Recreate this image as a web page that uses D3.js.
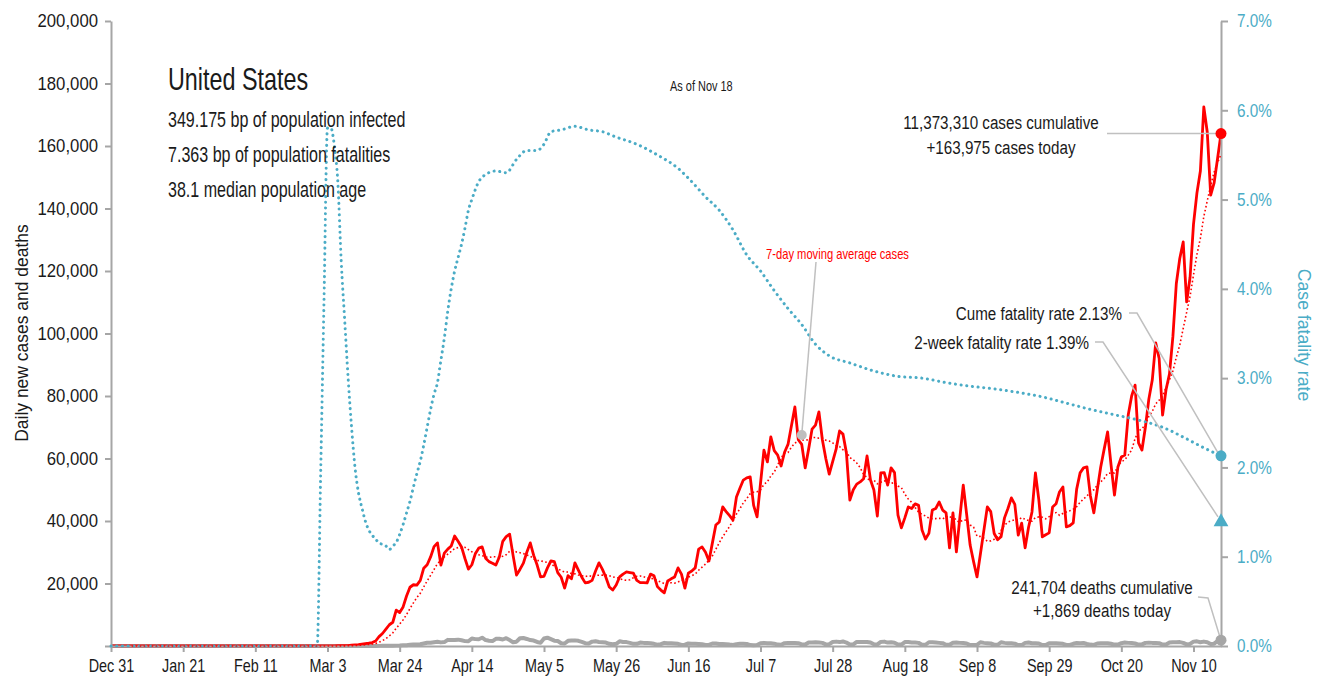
<!DOCTYPE html>
<html>
<head>
<meta charset="utf-8">
<script src="https://cdn.jsdelivr.net/npm/d3@7"></script>
<style>
  body { margin: 0; background: #fff; }
  svg text { font-family: "Liberation Sans", Arial, sans-serif; fill: #1a1a1a; }
</style>
</head>
<body>
<script>
// data
const startDate = "2019-12-31";
const endDate = "2020-11-18";

const tickDates = ["2019-12-31", "2020-01-21", "2020-02-11", "2020-03-03", "2020-03-24", "2020-04-14",
  "2020-05-05", "2020-05-26", "2020-06-16", "2020-07-07", "2020-07-28", "2020-08-18",
  "2020-09-08", "2020-09-29", "2020-10-20", "2020-11-10"];
const tickLabels = ["Dec 31", "Jan 21", "Feb 11", "Mar 3", "Mar 24", "Apr 14", "May 5", "May 26",
  "Jun 16", "Jul 7", "Jul 28", "Aug 18", "Sep 8", "Sep 29", "Oct 20", "Nov 10"];

// daily new cases, one value per day from Dec 31
const cases = [
  0, 0, 0, 0, 0, 0, 0, 0, 0, 0, 0, 0, 0, 0, 0, 0, 0, 0, 0, 0, 0,
  1, 0, 0, 1, 0, 3, 0, 0, 0, 0, 1,
  1, 0, 3, 0, 0, 1, 0, 0, 0, 0, 1, 0, 1, 0, 0, 0, 0, 0, 0, 0, 2, 0, 0, 22, 0, 6, 1, 1, 8,
  3, 20, 14, 22, 34, 74, 105, 95, 121,
  300, 380, 450, 600, 750, 900, 1100, 1600, 3000, 4000,
  5400, 6800, 7600, 11500, 10700, 12500, 16000, 18800, 19600, 19500,
  21000, 24900, 26000, 28500, 31800, 33000, 25900, 29700, 31000, 32000,
  35200, 33500, 31700, 28000, 24600, 26000, 29500, 31300, 31700, 28100,
  27000, 26500, 25900, 28500, 33500, 35000, 35800, 29000, 22700, 24500,
  26500, 30000, 33000, 29000, 25900, 22100, 22300, 25000, 27200, 27000,
  23500, 22000, 18500, 22500, 21500, 26600, 24300, 22000, 20200, 20400,
  21000, 24000, 26600, 24500, 22000, 18900, 17900, 19500, 22100, 23000,
  23700, 23500, 23300, 21000, 20300, 20300, 20200, 23000, 22500, 19000,
  17900, 17000, 20800, 21500, 22100, 25000, 23000, 18500, 23300, 24000,
  25000, 31000, 31700, 30000, 27200, 33000, 38700, 39700, 44500, 43000,
  41700, 40300, 47700, 50500, 53100, 53800, 54100, 45000, 41300, 52000,
  62700, 58900, 66900, 62500, 61100, 57600, 62000, 64500, 70500, 76500,
  66000, 64500, 57000, 63000, 69400, 70700, 74900, 66000, 60000, 55000,
  59000, 63000, 68800, 67800, 61800, 46700, 50000, 51800, 52500, 53500,
  60800, 53100, 49900, 41600, 55400, 55500, 51500, 57000, 55500, 41900,
  37800, 41000, 44500, 44000, 45500, 45000, 37100, 34200, 36100, 43500,
  44000, 46100, 43500, 42600, 31400, 42600, 30100, 41000, 51500, 42000,
  32300, 27000, 22100, 29500, 37000, 44500, 43000, 36000, 34000, 35000,
  41000, 44000, 47400, 45300, 35500, 39300, 31400, 38000, 42900, 55400,
  46700, 34900, 35600, 36200, 44500, 45500, 49300, 50900, 38100, 38500,
  39400, 50200, 55400, 57000, 57300, 48000, 42600, 50000, 57300, 63000,
  68500, 58000, 48300, 57300, 60500, 61100, 73900, 80000, 83500, 65000,
  62700, 70000, 79000, 85100, 97000, 92000, 73900, 82000, 87000, 99000,
  116000, 124000, 129300, 110100, 118000, 135000, 145000, 152000, 172500, 164500,
  144300, 148200, 156000, 163975
];

// daily deaths, one value per day from Dec 31
const deaths = [
  0, 0, 0, 0, 0, 0, 0, 0, 0, 0, 0, 0, 0, 0, 0, 0, 0, 0, 0, 0, 0,
  0, 0, 0, 0, 0, 0, 0, 0, 0, 0, 0, 0, 0, 0, 0, 0, 0, 0, 0, 0, 0,
  0, 0, 0, 0, 0, 0, 0, 0, 0, 0, 0, 0, 0, 0, 0, 0, 0, 0, 0,
  1, 5, 1, 2, 3, 2, 3,
  2, 4, 4, 8, 7, 11, 12,
  10, 20, 25, 40, 50, 60, 70,
  100, 120, 140, 220, 250, 400, 520,
  520, 560, 810, 1050, 1040, 1200, 1330,
  1160, 1250, 1960, 1920, 1900, 2035, 1830,
  1560, 1510, 2400, 2200, 2170, 2650, 1900,
  1700, 1580, 2300, 2340, 2080, 2500, 1900,
  1200, 1380, 2470, 2560, 2250, 1900, 1750,
  1300, 1050, 2380, 2650, 2200, 1700, 1600,
  900, 800, 1650, 1770, 1800, 1650, 1300,
  900, 800, 1400, 1500, 1300, 1200, 1100,
  700, 550, 700, 1500, 1300, 1250, 1000,
  700, 700, 1100, 1000, 1000, 900, 700,
  400, 600, 1000, 900, 900, 800, 700,
  350, 400, 800, 750, 700, 650, 550,
  300, 350, 800, 800, 650, 650, 600,
  450, 350, 600, 700, 700, 650, 300,
  250, 300, 900, 1000, 900, 850, 750,
  450, 400, 900, 1000, 1000, 950, 900,
  500, 450, 1100, 1150, 1200, 1100, 1000,
  500, 600, 1300, 1400, 1250, 1450, 1100,
  500, 500, 1300, 1300, 1300, 1300, 1100,
  550, 500, 1300, 1400, 1100, 1200, 1050,
  500, 450, 1250, 1300, 1150, 1100, 1000,
  400, 400, 1200, 1200, 1100, 1000, 900,
  400, 400, 1050, 1100, 1000, 950, 800,
  300, 300, 400, 1200, 1000, 900, 800,
  400, 400, 1200, 1000, 900, 900, 750,
  300, 300, 1000, 1100, 900, 900, 800,
  300, 300, 900, 900, 900, 800, 700,
  350, 350, 700, 950, 900, 950, 650,
  450, 350, 800, 850, 900, 900, 700,
  450, 450, 900, 1100, 1000, 950, 800,
  450, 500, 1000, 1050, 1000, 1000, 900,
  450, 500, 1100, 1200, 1200, 1250, 1000,
  500, 650, 1400, 1500, 1200, 1400, 1200,
  650, 750, 1600, 1869
];

// case fatality rate (%), read at these dates
const cfrDates = ["2019-12-31", "2020-02-29", "2020-03-01", "2020-03-02", "2020-03-03", "2020-03-04",
  "2020-03-05", "2020-03-06", "2020-03-07", "2020-03-08", "2020-03-09", "2020-03-10", "2020-03-11",
  "2020-03-12", "2020-03-13", "2020-03-14", "2020-03-15", "2020-03-16", "2020-03-17", "2020-03-18",
  "2020-03-19", "2020-03-20", "2020-03-21", "2020-03-22", "2020-03-23", "2020-03-24", "2020-03-25",
  "2020-03-26", "2020-03-27", "2020-03-28", "2020-03-29", "2020-03-30", "2020-03-31", "2020-04-01",
  "2020-04-02", "2020-04-03", "2020-04-04", "2020-04-05", "2020-04-06", "2020-04-07", "2020-04-08",
  "2020-04-09", "2020-04-10", "2020-04-11", "2020-04-12", "2020-04-13", "2020-04-14", "2020-04-16",
  "2020-04-18", "2020-04-21", "2020-04-24", "2020-04-27", "2020-04-30", "2020-05-03", "2020-05-05",
  "2020-05-07", "2020-05-10", "2020-05-14", "2020-05-18", "2020-05-22", "2020-05-26", "2020-06-01",
  "2020-06-07", "2020-06-13", "2020-06-17", "2020-06-21", "2020-06-25", "2020-06-29", "2020-07-03",
  "2020-07-07", "2020-07-11", "2020-07-15", "2020-07-19", "2020-07-23", "2020-07-27", "2020-08-02",
  "2020-08-09", "2020-08-16", "2020-08-23", "2020-08-30", "2020-09-06", "2020-09-13", "2020-09-20",
  "2020-09-27", "2020-10-04", "2020-10-11", "2020-10-18", "2020-10-25", "2020-11-01", "2020-11-08",
  "2020-11-13", "2020-11-18"];
const cfrPct = [0, 0, 1.9, 3.9, 5.8, 5.8,
  5.6, 5.2, 4.3, 3.65, 3.0, 2.45, 2.0,
  1.72, 1.55, 1.4, 1.3, 1.24, 1.2, 1.15,
  1.14, 1.12, 1.08, 1.12, 1.16, 1.25, 1.36,
  1.49, 1.62, 1.78, 1.93, 2.07, 2.25, 2.45,
  2.65, 2.82, 2.95, 3.2, 3.45, 3.75, 4.0,
  4.2, 4.35, 4.5, 4.68, 4.88, 5.0, 5.2,
  5.28, 5.32, 5.3, 5.45, 5.55, 5.55, 5.62,
  5.76, 5.78, 5.82, 5.78, 5.76, 5.7, 5.62,
  5.5, 5.35, 5.2, 5.03, 4.88, 4.66, 4.38,
  4.2, 3.98, 3.78, 3.6, 3.38, 3.25, 3.17,
  3.08, 3.02, 3.0, 2.95, 2.91, 2.88, 2.84,
  2.79, 2.72, 2.65, 2.59, 2.53, 2.45, 2.32,
  2.22, 2.13];

const country = "United States";
const statLines = ["349.175 bp of population infected", "7.363 bp of population fatalities", "38.1 median population age"];
const asOf = "As of Nov 18";
const cumCases = 11373310, cumDeaths = 241704;
const cumeRate = 2.13, twoWeekRate = 1.39;
const maMarkDate = "2020-07-19";

// setup
const width = 1325, height = 684,
      blue = "#4bacc6", red = "#ff0000", grey = "#a6a6a6", lead = "#c0c0c0";
const parse = d3.utcParse("%Y-%m-%d"),
      t0 = parse(startDate),
      dates = cases.map((d, i) => d3.utcDay.offset(t0, i)),
      ma = cases.map((d, i) => i >= 6 ? d3.mean(cases.slice(i - 6, i + 1)) : null),
      fmt = d3.format(",");

const svg = d3.select("body").append("svg").attr("width", width).attr("height", height);

// squeeze text horizontally to imitate the condensed face
function narrow(sel, k) {
  sel.each(function() {
    const t = d3.select(this),
          tx = +t.attr("x") || 0, ty = +t.attr("y") || 0,
          prev = t.attr("transform") || "";
    t.attr("x", 0).attr("y", 0).attr("transform", `${prev} translate(${tx},${ty}) scale(${k},1)`);
  });
  return sel;
}

const x = d3.scaleUtc().domain([t0, parse(endDate)]).range([111, 1221]),
      y = d3.scaleLinear().domain([0, 200000]).range([646, 21]),
      yR = d3.scaleLinear().domain([0, 7]).range([646, 21]);

// daily series, under the axes
svg.append("path")
  .datum(deaths)
  .attr("fill", "none").attr("stroke", grey).attr("stroke-width", 4).attr("stroke-linejoin", "round")
  .attr("d", d3.line().x((d, i) => x(dates[i])).y(d => y(d)));

svg.append("path")
  .datum(cases)
  .attr("fill", "none").attr("stroke", red).attr("stroke-width", 2.8).attr("stroke-linejoin", "round")
  .attr("d", d3.line().x((d, i) => x(dates[i])).y(d => y(d)));

// axes
const axL = svg.append("g").attr("transform", "translate(111,0)")
  .call(d3.axisLeft(y).tickValues(d3.range(0, 200001, 20000)).tickSize(6).tickSizeOuter(0).tickPadding(7)
    .tickFormat(d => d ? fmt(d) : ""));
const axR = svg.append("g").attr("transform", "translate(1221,0)")
  .call(d3.axisRight(yR).tickValues(d3.range(0, 8)).tickSize(7).tickSizeOuter(0).tickPadding(9)
    .tickFormat(d => d.toFixed(1) + "%"));
const axB = svg.append("g").attr("transform", "translate(0,646)")
  .call(d3.axisBottom(x).tickValues(tickDates.map(parse)).tickSize(6).tickSizeOuter(0).tickPadding(7)
    .tickFormat((d, i) => tickLabels[i]));

[axL, axR, axB].forEach(g => {
  g.selectAll(".domain").attr("stroke", grey).attr("stroke-width", 2);
  g.selectAll(".tick line").attr("stroke", grey).attr("stroke-width", 2);
});
narrow(axL.selectAll("text").style("font-size", "18px"), 0.93);
narrow(axB.selectAll("text").style("font-size", "18px"), 0.8);
narrow(axR.selectAll("text").style("font-size", "18px").style("fill", blue), 0.85);

narrow(svg.append("text").attr("transform", "translate(28,333) rotate(-90)")
  .attr("text-anchor", "middle").style("font-size", "19px").text("Daily new cases and deaths"), 0.92);
narrow(svg.append("text").attr("transform", "translate(1298,335) rotate(90)")
  .attr("text-anchor", "middle").style("font-size", "19px").style("fill", blue).text("Case fatality rate"), 0.93);

// dotted series, over the axes
svg.append("path")
  .datum(cfrDates.map((d, i) => [parse(d), cfrPct[i]]))
  .attr("fill", "none").attr("stroke", blue).attr("stroke-width", 3)
  .attr("stroke-linecap", "round").attr("stroke-dasharray", "0.1 5.6")
  .attr("d", d3.line().x(d => x(d[0])).y(d => yR(d[1])).curve(d3.curveMonotoneX));

svg.append("path")
  .datum(ma)
  .attr("fill", "none").attr("stroke", red).attr("stroke-width", 1.6).attr("stroke-dasharray", "1.6 2.4")
  .attr("d", d3.line().defined(d => d !== null).x((d, i) => x(dates[i])).y(d => y(d)));

// annotations
narrow(svg.append("text").attr("x", 168).attr("y", 90).style("font-size", "32px").text(country), 0.73);
narrow(svg.selectAll(".stat").data(statLines).enter().append("text")
  .attr("class", "stat").attr("x", 168).attr("y", (d, i) => 127 + i * 35)
  .style("font-size", "22px").text(d => d), 0.73);
narrow(svg.append("text").attr("x", 670).attr("y", 91).style("font-size", "15px").text(asOf), 0.73);

const last = cases.length - 1,
      tEnd = dates[last],
      xe = x(tEnd);

function leader(pts) {
  svg.append("path").attr("d", d3.line()(pts)).attr("fill", "none")
    .attr("stroke", lead).attr("stroke-width", 1.5);
}

function label(tx, ty, anchor, txt) {
  return narrow(svg.append("text").attr("x", tx).attr("y", ty).attr("text-anchor", anchor)
    .style("font-size", "19px").text(txt), 0.8);
}

// cases today
leader([[1107, y(cases[last])], [xe, y(cases[last])]]);
label(1001, 129, "middle", fmt(cumCases) + " cases cumulative");
label(1001, 154, "middle", "+" + fmt(cases[last]) + " cases today");

// fatality rates
leader([[1129, 313], [1137, 313], [xe - 3, yR(cumeRate) - 3]]);
leader([[1095, 342], [1103, 342], [xe - 3, yR(twoWeekRate) - 5]]);
label(1122, 320, "end", "Cume fatality rate " + cumeRate.toFixed(2) + "%");
label(1089, 349, "end", "2-week fatality rate " + twoWeekRate.toFixed(2) + "%");

// deaths today
leader([[1198, 597], [1208, 598], [xe - 1, y(deaths[last]) - 3]]);
label(1102, 594, "middle", fmt(cumDeaths) + " deaths cumulative");
label(1102, 617, "middle", "+" + fmt(deaths[last]) + " deaths today");

// moving average label
const mi = d3.utcDay.count(t0, parse(maMarkDate));
leader([[816, 262], [x(dates[mi]), y(ma[mi]) - 5]]);
narrow(svg.append("text").attr("x", 766).attr("y", 259).style("font-size", "14px").style("fill", red)
  .text("7-day moving average cases"), 0.8);
svg.append("circle").attr("cx", x(dates[mi])).attr("cy", y(ma[mi]) - 5).attr("r", 5).attr("fill", "#bfbfbf");

// end markers
svg.append("circle").attr("cx", xe).attr("cy", y(cases[last])).attr("r", 5.5).attr("fill", red);
svg.append("circle").attr("cx", xe).attr("cy", yR(cumeRate)).attr("r", 5.5).attr("fill", blue);
svg.append("path").attr("transform", `translate(${xe},${yR(twoWeekRate)})`)
  .attr("d", d3.symbol().type(d3.symbolTriangle).size(95)()).attr("fill", blue);
svg.append("circle").attr("cx", xe).attr("cy", y(deaths[last])).attr("r", 5.5).attr("fill", "#a6a6a6");
</script>
</body>
</html>
